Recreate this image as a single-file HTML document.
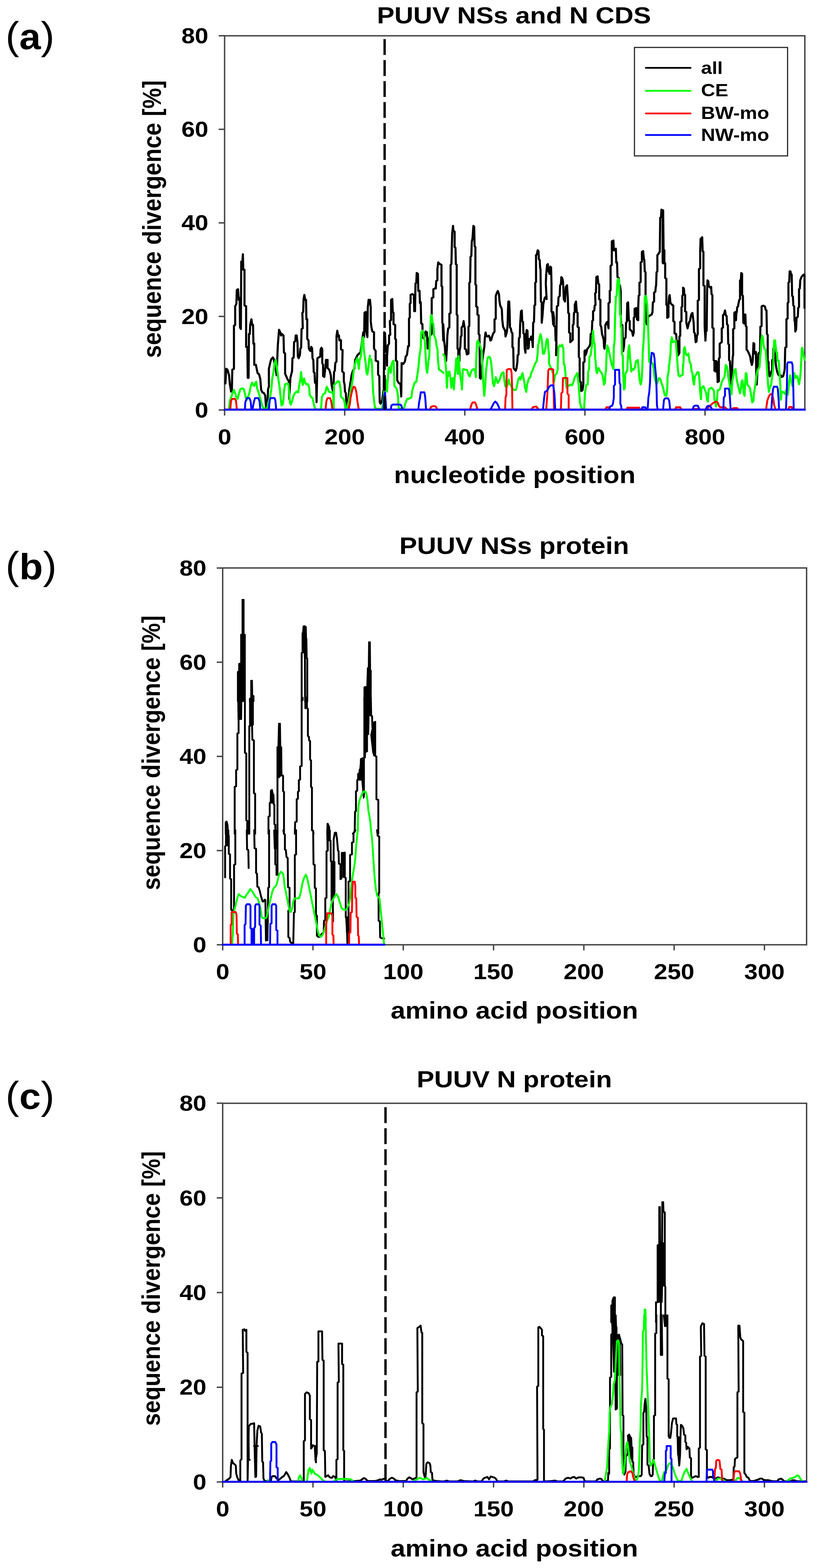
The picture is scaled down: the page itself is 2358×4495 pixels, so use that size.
<!DOCTYPE html>
<html><head><meta charset="utf-8"><title>PUUV sequence divergence</title>
<style>
html,body{margin:0;padding:0;background:#fff;}
svg{display:block;}
text{font-family:"Liberation Sans",Arial,sans-serif;font-weight:bold;fill:#000;}
.tk{font-size:62.5px;}
.ti{font-size:67.6px;}
.xl{font-size:67.9px;}
.yl{font-size:66.3px;}
.lg{font-size:50.5px;}
.pl{font-weight:normal;font-size:111px;}
</style></head><body>
<svg width="2358" height="4495" viewBox="0 0 2358 4495">
<rect width="2358" height="4495" fill="#fff"/>
<rect x="643.5" y="102.6" width="1662.5" height="1072.7" fill="none" stroke="#444444" stroke-width="4"/>
<line x1="626.5" y1="1175.3" x2="643.5" y2="1175.3" stroke="#444444" stroke-width="4"/>
<text transform="translate(597.0,1196.8) scale(1.112,1)" text-anchor="end" class="tk">0</text>
<line x1="626.5" y1="907.1" x2="643.5" y2="907.1" stroke="#444444" stroke-width="4"/>
<text transform="translate(597.0,928.6) scale(1.112,1)" text-anchor="end" class="tk">20</text>
<line x1="626.5" y1="638.9" x2="643.5" y2="638.9" stroke="#444444" stroke-width="4"/>
<text transform="translate(597.0,660.4) scale(1.112,1)" text-anchor="end" class="tk">40</text>
<line x1="626.5" y1="370.7" x2="643.5" y2="370.7" stroke="#444444" stroke-width="4"/>
<text transform="translate(597.0,392.2) scale(1.112,1)" text-anchor="end" class="tk">60</text>
<line x1="626.5" y1="102.5" x2="643.5" y2="102.5" stroke="#444444" stroke-width="4"/>
<text transform="translate(597.0,124.0) scale(1.112,1)" text-anchor="end" class="tk">80</text>
<line x1="643.5" y1="1175.3" x2="643.5" y2="1191.3" stroke="#444444" stroke-width="4"/>
<text transform="translate(643.5,1274.3) scale(1.112,1)" text-anchor="middle" class="tk">0</text>
<line x1="987.6" y1="1175.3" x2="987.6" y2="1191.3" stroke="#444444" stroke-width="4"/>
<text transform="translate(987.6,1274.3) scale(1.112,1)" text-anchor="middle" class="tk">200</text>
<line x1="1331.7" y1="1175.3" x2="1331.7" y2="1191.3" stroke="#444444" stroke-width="4"/>
<text transform="translate(1331.7,1274.3) scale(1.112,1)" text-anchor="middle" class="tk">400</text>
<line x1="1675.9" y1="1175.3" x2="1675.9" y2="1191.3" stroke="#444444" stroke-width="4"/>
<text transform="translate(1675.9,1274.3) scale(1.112,1)" text-anchor="middle" class="tk">600</text>
<line x1="2020.0" y1="1175.3" x2="2020.0" y2="1191.3" stroke="#444444" stroke-width="4"/>
<text transform="translate(2020.0,1274.3) scale(1.112,1)" text-anchor="middle" class="tk">800</text>
<text transform="translate(1472.5,66.6) scale(1.112,1)" text-anchor="middle" class="ti">PUUV NSs and N CDS</text>
<text transform="translate(1474.8,1385.0) scale(1.112,1)" text-anchor="middle" class="xl">nucleotide position</text>
<text transform="translate(461,628.2) rotate(-90) scale(1,1.112)" text-anchor="middle" class="yl">sequence divergence [%]</text>
<text transform="translate(15.8,140.5) scale(1.066,1)" class="pl">(<tspan font-weight="bold" font-size="104px">a</tspan>)</text>
<polyline points="645.8,1099.2 648.1,1057.3 651.6,1059.6 656.3,1075.9 658.6,1101.5 662.1,1122.5 664.4,1115.5 665.6,1059.6 670.3,1057.3 670.3,933.9 673.8,931.6 673.8,878.0 677.3,871.0 678.4,831.5 681.9,829.1 684.2,859.4 686.6,854.7 687.7,938.6 690.1,943.2 691.2,750.0 694.7,747.6 695.9,729.0 697.0,773.2 700.5,773.2 700.5,875.7 705.2,878.0 705.2,994.4 708.7,994.4 709.8,1082.9 712.2,1082.9 713.3,957.2 715.7,957.2 716.8,931.6 720.3,915.3 722.7,931.6 725.0,931.6 726.1,985.1 728.5,985.1 728.5,1045.7 733.1,1045.7 737.8,1068.9 742.4,1073.6 745.9,1087.6 748.3,1117.8 751.8,1124.8 756.4,1127.1 759.9,1134.1 762.2,1169.1 765.7,1166.7 768.1,1115.5 770.4,1108.5 770.4,1057.3 775.0,1036.3 777.4,1029.4 782.0,1024.7 784.4,1029.4 786.7,1043.3 789.0,1050.3 792.5,1075.9 796.0,989.8 799.5,945.5 803.0,952.5 805.3,961.8 807.6,957.2 812.3,961.8 813.5,1010.7 816.9,1013.1 816.9,1071.3 823.9,1087.6 827.4,1092.2 828.6,1143.4 832.1,1082.9 836.7,1064.3 837.9,1027.0 841.4,1024.7 842.6,980.5 846.1,978.1 847.2,961.8 850.0,961.8" fill="none" stroke="#000000" stroke-width="6.0" stroke-linejoin="round" stroke-linecap="round"/>
<polyline points="850.0,961.8 852.3,980.5 853.5,1022.4 855.8,1027.0 859.3,1017.7 860.5,999.1 862.8,996.8 864.0,943.2 867.5,940.9 866.3,896.6 868.6,894.3 869.8,857.1 872.1,845.4 874.4,859.4 876.8,859.4 877.9,915.3 880.3,915.3 880.3,971.2 883.8,975.8 884.9,999.1 887.3,1003.7 889.6,1006.1 891.9,994.4 894.2,999.1 895.4,1027.0 897.7,1031.7 898.9,1066.6 901.2,1068.9 902.4,1096.9 905.9,1099.2 907.0,1152.8 908.2,1099.2 909.4,1027.0 912.9,1024.7 917.5,1022.4 918.7,1001.4 921.0,996.8 923.3,1001.4 923.3,1041.0 925.7,1045.7 925.7,1078.3 929.2,1080.6 931.5,1059.6 932.7,1050.3 933.8,1031.7 938.5,1031.7 938.5,1055.0 943.1,1059.6 945.5,1066.6 947.8,1075.9 950.1,1103.9 953.6,1120.2 955.9,1094.6 957.1,1066.6 959.4,1062.0 960.6,1041.0 964.1,1036.3 964.1,964.2 966.4,947.9 968.7,964.2 971.1,961.8 972.2,975.8 973.4,973.5 976.9,975.8 976.9,1001.4 981.5,1003.7 980.4,1064.3 985.0,1068.9 985.0,1092.2 987.4,1103.9 988.5,1122.5 990.9,1127.1 992.0,1148.1 994.4,1164.4 996.7,1166.7 999.0,1134.1 1001.3,1113.2 1004.8,1092.2 1007.2,1075.9 1010.7,1064.3 1013.0,1059.6 1015.3,1057.3 1017.6,1031.7 1021.1,1024.7 1024.6,1017.7 1029.3,1013.1 1032.8,1010.7 1036.3,985.1 1040.9,952.5 1043.2,966.5 1044.4,896.6 1047.9,894.3 1049.1,947.9 1052.6,966.5 1053.7,882.7 1056.1,859.4 1058.4,871.0 1060.0,868.7" fill="none" stroke="#000000" stroke-width="6.0" stroke-linejoin="round" stroke-linecap="round"/>
<polyline points="1060.0,859.4 1062.3,882.7 1062.3,922.3 1064.7,940.9 1067.0,950.2 1071.6,952.5 1071.6,999.1 1076.3,1006.1 1076.3,1034.0 1083.3,1036.3 1083.3,1073.6 1086.8,1078.3 1087.9,1152.8 1090.3,1157.4 1094.9,1148.1 1096.1,1138.8 1098.4,1122.5 1099.6,1115.5 1100.7,952.5 1103.1,954.9 1105.4,1008.4 1107.7,1006.1 1108.9,1048.0 1108.9,1022.4 1111.2,989.8 1114.7,985.1 1114.7,961.8 1118.2,959.5 1117.0,919.9 1120.5,917.6 1120.5,859.4 1124.0,857.1 1125.2,894.3 1127.5,896.6 1127.5,929.2 1132.2,931.6 1132.2,971.2 1134.5,973.5 1134.5,1034.0 1138.0,1036.3 1138.0,1089.9 1140.3,1094.6 1143.8,1099.2 1147.3,1099.2 1149.6,1136.5 1150.8,1041.0 1155.5,1043.3 1160.1,1036.3 1162.4,1022.4 1165.9,1017.7 1169.4,992.1 1171.8,992.1 1171.8,912.9 1174.1,910.6 1174.1,871.0 1176.4,868.7 1176.4,845.4 1181.1,843.1 1185.7,845.4 1186.9,892.0 1189.2,892.0 1189.2,882.7 1190.4,812.8 1192.7,810.5 1193.9,782.6 1197.4,784.9 1198.5,833.8 1202.0,833.8 1203.2,868.7 1205.5,866.4 1206.7,926.9 1210.2,929.2 1211.3,966.5 1214.8,971.2 1219.5,950.2 1223.0,952.5 1225.3,999.1 1227.6,980.5 1232.3,961.8 1236.9,957.2 1236.9,854.7 1241.6,852.4 1241.6,829.1 1246.3,826.8 1248.6,826.8 1249.8,805.8 1253.2,803.5 1253.2,770.9 1255.6,752.3 1260.2,756.9 1264.9,759.3 1264.9,819.8 1267.2,822.1 1267.2,924.6 1268.4,929.2 1270.0,975.8" fill="none" stroke="#000000" stroke-width="6.0" stroke-linejoin="round" stroke-linecap="round"/>
<polyline points="1270.0,929.7 1272.3,976.4 1274.7,995.0 1277.0,1034.7 1278.2,1034.7 1280.5,995.0 1281.7,962.4 1284.0,941.4 1287.5,939.1 1287.5,899.4 1291.0,897.1 1291.0,759.5 1293.3,757.2 1294.5,708.2 1295.6,668.6 1298.0,647.6 1299.1,661.6 1302.6,663.9 1302.6,708.2 1305.0,710.6 1306.1,757.2 1308.5,759.5 1308.5,901.8 1310.8,904.1 1310.8,999.7 1313.1,1002.0 1313.1,1037.0 1316.6,1034.7 1316.6,1006.7 1319.0,992.7 1320.1,964.7 1322.5,962.4 1322.5,939.1 1326.0,934.4 1328.3,920.4 1330.6,936.7 1331.8,941.4 1331.8,999.7 1335.3,1002.0 1337.6,1016.0 1342.3,1013.7 1342.3,936.7 1344.6,934.4 1344.6,810.8 1346.9,808.5 1348.1,736.2 1350.4,733.9 1351.6,694.2 1353.9,682.6 1356.3,647.6 1358.6,649.9 1359.8,705.9 1362.1,708.2 1362.1,815.5 1364.4,817.8 1364.4,878.4 1367.9,880.8 1367.9,901.8 1371.4,904.1 1371.4,957.7 1373.8,960.0 1374.9,1083.6 1377.3,1085.9 1379.6,1060.3 1384.2,1016.0 1387.7,995.0 1388.9,971.7 1391.2,953.0 1393.6,962.4 1397.1,964.7 1400.6,962.4 1402.9,967.0 1405.2,976.4 1407.6,974.0 1409.9,964.7 1413.4,955.4 1416.9,950.7 1416.9,915.7 1420.4,913.4 1420.4,848.1 1423.9,838.8 1426.2,834.1 1429.7,843.5 1430.9,862.1 1433.2,876.1 1436.7,883.1 1437.9,887.8 1439.0,915.7 1441.4,936.7 1443.7,941.4 1447.2,948.4 1448.4,964.7 1451.9,953.0 1454.2,934.4 1455.4,890.1 1456.5,864.4 1458.9,864.4 1460.0,890.1 1461.2,939.1 1463.5,941.4 1465.8,953.0 1468.2,955.4 1468.2,995.0 1470.5,997.3 1471.7,1055.6 1475.2,1060.3 1477.5,1062.6 1479.8,1055.6 1482.2,1039.3 1483.3,1018.3 1485.7,1016.0 1486.8,969.4 1489.2,967.0 1490.3,929.7 1492.7,892.4 1495.0,890.1 1496.2,920.4 1498.5,922.7 1499.7,955.4 1502.0,957.7 1503.2,997.3 1505.5,1011.3 1506.7,964.7 1509.0,946.1 1511.3,948.4 1512.5,999.7 1514.8,997.3 1516.0,971.7 1519.5,974.0 1521.8,964.7 1524.1,967.0 1526.5,995.0 1527.6,925.1 1530.0,922.7 1531.1,876.1 1533.5,873.8 1533.5,810.8 1535.8,808.5 1535.8,731.6 1538.1,729.2 1540.5,717.6 1542.8,719.9 1544.0,743.2 1546.3,745.5 1547.5,768.9 1548.6,771.2 1549.8,864.4 1552.1,866.8 1552.1,925.1 1554.4,904.1 1556.8,871.4 1560.3,855.1 1563.8,850.5 1566.1,857.5 1563.8,813.2 1564.9,787.5 1567.3,759.5 1569.6,757.2 1570.8,775.8 1573.1,780.5 1574.3,785.2 1576.6,764.2 1578.9,766.5 1580.1,813.2 1580.1,892.4 1582.4,897.1 1583.6,911.1 1585.0,929.7" fill="none" stroke="#000000" stroke-width="6.0" stroke-linejoin="round" stroke-linecap="round"/>
<polyline points="1585.0,894.8 1587.3,911.1 1587.3,934.4 1590.8,936.7 1592.0,976.4 1594.3,978.7 1594.3,1011.3 1593.2,1018.3 1595.5,878.4 1599.0,876.1 1600.2,852.8 1603.7,848.1 1604.8,817.8 1607.1,815.5 1608.3,794.5 1610.6,796.8 1613.0,806.2 1614.1,827.1 1615.3,857.5 1618.8,864.4 1620.0,841.1 1621.1,822.5 1624.6,817.8 1627.0,855.1 1628.1,897.1 1630.5,899.4 1630.5,953.0 1634.0,955.4 1634.0,981.0 1638.6,976.4 1641.0,974.0 1641.0,932.1 1643.3,929.7 1644.5,897.1 1646.8,894.8 1646.8,873.8 1650.3,864.4 1652.6,894.8 1654.9,897.1 1654.9,936.7 1658.4,939.1 1658.4,1023.0 1660.8,1027.7 1660.8,1092.9 1664.3,1095.3 1665.4,1120.9 1668.9,1118.6 1671.3,1102.3 1671.3,1039.3 1674.8,1037.0 1674.8,1006.7 1677.1,1004.3 1677.1,1018.3 1679.4,1013.7 1682.9,999.7 1685.3,997.3 1688.8,992.7 1691.1,985.7 1692.3,957.7 1695.7,955.4 1696.9,920.4 1699.2,918.1 1699.2,892.4 1702.7,890.1 1703.9,876.1 1706.2,873.8 1705.1,841.1 1707.4,838.8 1708.6,794.5 1712.1,792.2 1714.4,813.2 1716.7,815.5 1716.7,857.5 1720.2,859.8 1720.2,932.1 1722.6,936.7 1724.9,957.7 1727.2,964.7 1729.6,974.0 1730.7,995.0 1731.9,999.7 1734.2,974.0 1734.2,932.1 1737.7,925.1 1740.0,922.7 1743.5,941.4 1743.5,869.1 1747.0,866.8 1747.0,834.1 1749.4,831.8 1749.4,761.9 1752.9,759.5 1752.9,691.9 1757.5,689.6 1758.7,717.6 1762.2,717.6 1764.5,712.9 1765.7,752.5 1768.0,752.5 1769.2,794.5 1772.7,796.8 1773.9,815.5 1776.2,817.8 1778.5,834.1 1778.5,904.1 1779.7,929.7 1783.2,932.1 1784.3,971.7 1785.5,1006.7 1787.8,992.7 1789.0,971.7 1792.5,967.0 1793.7,925.1 1796.0,922.7 1797.2,869.1 1799.5,866.8 1801.8,918.1 1804.2,920.4 1804.2,943.7 1808.8,948.4 1811.2,950.7 1813.5,962.4 1815.8,953.0 1815.8,911.1 1818.2,908.7 1818.2,885.4 1822.8,883.1 1825.1,915.7 1828.6,918.1 1828.6,880.8 1829.8,848.1 1832.1,845.8 1832.1,810.8 1835.6,808.5 1835.6,752.5 1839.1,750.2 1839.1,722.2 1842.6,719.9 1845.0,743.2 1846.1,745.5 1847.3,778.2 1849.6,780.5 1849.6,843.5 1850.8,915.7 1853.1,929.7 1856.6,927.4 1856.6,908.7 1859.0,906.4 1862.5,904.1 1867.1,901.8 1869.4,894.8 1870.6,866.8 1874.1,864.4 1874.1,838.8 1877.6,836.5 1878.8,822.5 1879.9,817.8 1881.1,780.5 1883.4,778.2 1883.4,731.6 1885.8,729.2 1888.1,724.6 1890.4,722.2 1891.6,624.3 1893.9,622.0 1895.1,601.0 1898.6,603.3 1898.6,752.5 1900.0,754.9" fill="none" stroke="#000000" stroke-width="6.0" stroke-linejoin="round" stroke-linecap="round"/>
<polyline points="1900.0,603.3 1901.2,715.2 1903.5,717.6 1903.5,752.5 1905.8,754.9 1905.8,796.8 1909.3,799.2 1909.3,873.8 1911.7,876.1 1911.7,911.1 1915.2,908.7 1915.2,876.1 1917.5,848.1 1918.7,845.8 1921.0,869.1 1923.3,871.4 1925.6,873.8 1929.1,876.1 1929.1,920.4 1932.6,922.7 1932.6,955.4 1937.3,957.7 1938.5,976.4 1942.0,978.7 1943.1,1018.3 1946.6,1011.3 1946.6,964.7 1949.0,962.4 1949.0,922.7 1952.5,920.4 1952.5,880.8 1954.8,878.4 1954.8,848.1 1957.1,845.8 1957.1,824.8 1959.5,827.1 1960.6,843.5 1963.0,845.8 1963.0,892.4 1966.4,894.8 1966.4,925.1 1969.9,941.4 1972.3,932.1 1974.6,922.7 1976.9,920.4 1979.3,906.4 1981.6,899.4 1983.9,897.1 1987.4,925.1 1988.6,953.0 1990.9,955.4 1993.3,981.0 1995.6,978.7 1996.8,962.4 1999.1,957.7 1999.1,862.1 2002.6,859.8 2002.6,771.2 2006.1,768.9 2006.1,719.9 2007.3,684.9 2011.9,680.3 2013.1,719.9 2015.4,722.2 2015.4,817.8 2018.9,820.1 2018.9,934.4 2021.2,976.4 2022.4,950.7 2024.7,948.4 2025.9,836.5 2027.1,803.8 2029.4,806.2 2030.6,820.1 2032.9,822.5 2035.2,824.8 2037.6,822.5 2038.7,843.5 2041.1,845.8 2041.1,939.1 2044.6,941.4 2044.6,1032.3 2046.9,1034.7 2046.9,1062.6 2050.4,1065.0 2051.6,1034.7 2053.9,1037.0 2056.2,1095.3 2059.7,1092.9 2059.7,1027.7 2062.0,1025.3 2062.0,985.7 2064.4,983.4 2067.9,981.0 2067.9,941.4 2071.4,939.1 2071.4,904.1 2074.9,899.4 2077.2,890.1 2079.5,904.1 2081.9,906.4 2083.0,929.7 2085.4,932.1 2086.5,985.7 2088.9,988.0 2088.9,1032.3 2091.2,1034.7 2093.5,1079.0 2094.7,1102.3 2097.0,1072.0 2099.3,1023.0 2100.5,1018.3 2100.5,943.7 2104.0,941.4 2104.0,897.1 2106.3,894.8 2107.5,915.7 2108.7,918.1 2109.8,897.1 2111.0,894.8 2112.2,880.8 2114.5,878.4 2115.7,871.4 2118.0,859.8 2120.3,857.5 2120.3,803.8 2122.7,801.5 2123.8,782.8 2126.2,785.2 2126.2,845.8 2128.5,848.1 2129.7,925.1 2132.0,927.4 2133.2,901.8 2135.5,901.8 2136.7,934.4 2139.0,936.7 2139.0,1002.0 2141.3,1004.3 2143.6,1009.0 2147.1,1016.0 2149.5,1023.0 2151.8,1037.0 2154.1,1046.3 2156.5,1037.0 2158.8,983.4 2161.1,985.7 2161.1,1013.7 2165.8,1009.0 2167.0,1081.3 2168.1,1102.3 2170.5,1058.0 2172.8,1013.7 2177.5,1009.0 2178.6,936.7 2182.1,934.4 2182.1,878.4 2186.8,876.1 2191.4,878.4 2193.8,887.8 2196.1,890.1 2197.3,957.7 2199.6,960.0 2199.6,1034.7 2201.9,1037.0 2203.1,1074.3 2205.4,1079.0 2210.1,1065.0 2212.4,1060.3 2212.4,1032.3 2215.0,1030.0" fill="none" stroke="#000000" stroke-width="6.0" stroke-linejoin="round" stroke-linecap="round"/>
<polyline points="2215.0,1029.4 2215.9,999.1 2219.4,1003.7 2222.9,1045.7 2225.3,1059.6 2227.6,1068.9 2231.1,1075.9 2236.9,1075.9 2240.4,1080.6 2243.9,1078.3 2247.4,1064.3 2248.5,1055.0 2249.7,996.8 2253.2,994.4 2253.2,915.3 2256.7,912.9 2256.7,868.7 2259.0,866.4 2259.0,810.5 2261.3,808.2 2262.5,777.9 2264.8,777.9 2266.0,784.9 2268.3,787.2 2269.5,847.8 2271.8,850.1 2273.0,875.7 2275.3,878.0 2276.5,919.9 2277.6,922.3 2278.8,950.2 2281.1,943.2 2282.3,910.6 2285.8,908.3 2286.9,882.7 2289.3,880.3 2289.3,829.1 2291.6,826.8 2292.8,803.5 2296.3,794.2 2299.8,789.5 2303.2,787.2 2305.1,789.5 2305.1,882.7" fill="none" stroke="#000000" stroke-width="6.0" stroke-linejoin="round" stroke-linecap="round"/>
<polyline points="656.3,1172.5 658.6,1150.4 662.1,1138.8 665.6,1129.5 670.3,1117.8 673.8,1127.1 677.3,1138.8 680.7,1143.4 684.2,1129.5 688.9,1115.5 693.6,1113.2 698.2,1115.5 701.7,1127.1 704.0,1138.8 707.5,1145.8 714.5,1127.1 719.2,1103.9 722.7,1096.9 725.0,1103.9 728.5,1106.2 732.0,1096.9 734.3,1094.6 736.6,1113.2 740.1,1122.5 743.6,1134.1 747.1,1148.1 751.8,1164.4 756.4,1171.4 765.7,1171.4 770.4,1148.1 773.9,1138.8 777.4,1115.5 779.7,1087.6 783.2,1068.9 786.7,1041.0 790.2,1031.7 792.5,1045.7 794.8,1064.3 798.3,1092.2 801.8,1115.5 804.1,1138.8 806.5,1162.1 810.0,1159.7 812.3,1143.4 813.5,1122.5 816.9,1101.5 823.9,1099.2 826.3,1101.5 828.6,1127.1 830.9,1155.1 833.2,1159.7 836.7,1150.4 840.2,1136.5 844.9,1127.1 850.0,1122.5" fill="none" stroke="#00ff00" stroke-width="5.9" stroke-linejoin="round" stroke-linecap="round"/>
<polyline points="850.0,1122.5 854.7,1124.8 857.0,1106.2 860.5,1087.6 862.8,1066.6 865.1,1092.2 867.5,1103.9 871.0,1085.2 874.4,1096.9 877.9,1101.5 882.6,1101.5 886.1,1113.2 887.3,1131.8 891.9,1138.8 895.4,1141.1 898.9,1157.4 902.4,1171.4 905.9,1173.7 919.8,1173.7 922.2,1138.8 926.8,1129.5 931.5,1127.1 936.1,1108.5 939.6,1115.5 942.0,1122.5 947.8,1124.8 952.4,1124.8 954.8,1131.8 955.9,1171.4 957.1,1103.9 961.8,1099.2 968.7,1092.2 972.2,1094.6 975.7,1115.5 976.9,1136.5 980.4,1141.1 983.9,1143.4 987.4,1152.8 989.7,1173.7 992.0,1173.7 999.0,1152.8 1003.7,1124.8 1007.2,1106.2 1010.7,1087.6 1013.0,1064.3 1016.5,1045.7 1020.0,1034.0 1023.5,1027.0 1026.9,1045.7 1028.1,1057.3 1030.4,1031.7 1033.9,1022.4 1036.3,989.8 1038.6,971.2 1040.9,966.5 1042.1,999.1 1044.4,1017.7 1047.9,1043.3 1050.2,1068.9 1052.6,1073.6 1056.1,1050.3 1058.4,1027.0 1060.0,1020.0" fill="none" stroke="#00ff00" stroke-width="5.9" stroke-linejoin="round" stroke-linecap="round"/>
<polyline points="1060.0,1029.4 1063.5,1029.4 1065.8,1045.7 1067.0,1080.6 1069.3,1127.1 1072.8,1157.4 1075.1,1171.4 1094.9,1172.5 1098.4,1150.4 1103.1,1092.2 1106.6,1089.9 1108.9,1122.5 1110.1,1101.5 1113.6,1055.0 1118.2,1052.6 1119.4,1068.9 1121.7,1045.7 1125.2,1036.3 1127.5,1034.0 1129.8,1082.9 1129.8,1106.2 1132.2,1108.5 1136.8,1115.5 1140.3,1134.1 1141.5,1162.1 1142.7,1171.4 1153.1,1171.4 1157.8,1169.1 1162.4,1152.8 1167.1,1143.4 1171.8,1143.4 1178.7,1138.8 1181.1,1120.2 1185.7,1103.9 1188.1,1096.9 1192.7,1094.6 1195.0,1080.6 1197.4,1064.3 1199.7,1045.7 1202.0,1017.7 1205.5,999.1 1206.7,952.5 1211.3,947.9 1213.7,957.2 1216.0,971.2 1217.2,975.8 1219.5,1022.4 1221.8,1057.3 1224.1,1068.9 1226.5,1045.7 1227.6,1034.0 1230.0,1022.4 1231.1,982.8 1232.3,957.2 1234.6,906.0 1236.9,903.6 1239.3,924.6 1241.6,929.2 1243.9,961.8 1248.6,973.5 1250.9,992.1 1253.2,999.1 1255.6,1041.0 1257.9,1059.6 1262.6,1062.0 1267.2,1066.6 1270.0,1068.9" fill="none" stroke="#00ff00" stroke-width="5.9" stroke-linejoin="round" stroke-linecap="round"/>
<polyline points="1270.0,1016.0 1273.5,1020.7 1275.8,1037.0 1278.2,1058.0 1280.5,1111.6 1282.8,1067.3 1285.2,1076.6 1287.5,1065.0 1291.0,1088.3 1293.3,1111.6 1295.6,1085.9 1298.0,1083.6 1300.3,1116.3 1302.6,1085.9 1305.0,1058.0 1307.3,1027.7 1309.6,1053.3 1312.0,1072.0 1314.3,1020.7 1316.6,1058.0 1319.0,1079.0 1321.3,1090.6 1323.6,1116.3 1326.0,1060.3 1328.3,1058.0 1333.0,1060.3 1337.6,1060.3 1339.9,1065.0 1343.4,1076.6 1345.8,1079.0 1349.3,1067.3 1352.8,1060.3 1357.4,1058.0 1360.9,1060.3 1363.3,1081.3 1364.4,1030.0 1366.8,981.0 1369.1,976.4 1371.4,981.0 1374.9,990.4 1377.3,997.3 1380.7,1009.0 1383.1,1076.6 1385.4,1104.6 1386.6,1123.3 1387.7,1134.9 1390.1,1104.6 1392.4,1065.0 1394.7,1046.3 1397.1,1025.3 1400.6,1023.0 1404.1,1025.3 1406.4,1034.7 1408.7,1053.3 1411.1,1081.3 1412.2,1097.6 1415.7,1106.9 1418.1,1095.3 1420.4,1081.3 1423.9,1090.6 1426.2,1097.6 1430.9,1090.6 1434.4,1079.0 1437.9,1069.6 1442.5,1067.3 1444.9,1088.3 1447.2,1104.6 1450.7,1111.6 1454.2,1102.3 1457.7,1088.3 1460.0,1099.9 1463.5,1104.6 1467.0,1111.6 1470.5,1116.3 1475.2,1118.6 1478.7,1116.3 1481.0,1106.9 1483.3,1095.3 1485.7,1085.9 1489.2,1081.3 1491.5,1088.3 1495.0,1074.3 1497.3,1069.6 1499.7,1083.6 1502.0,1092.9 1504.3,1111.6 1507.8,1123.3 1510.1,1102.3 1512.5,1095.3 1514.8,1085.9 1519.5,1081.3 1521.8,1069.6 1524.1,1065.0 1526.5,1060.3 1528.8,1053.3 1531.1,1048.6 1533.5,1041.6 1538.1,1034.7 1540.5,1011.3 1541.6,990.4 1544.0,981.0 1546.3,967.0 1548.6,957.7 1551.0,967.0 1553.3,983.4 1555.6,1013.7 1559.1,1013.7 1562.6,997.3 1564.9,981.0 1567.3,971.7 1569.6,974.0 1570.8,997.3 1573.1,1018.3 1573.1,1041.6 1576.6,1051.0 1580.1,1058.0 1583.6,1067.3 1585.0,1069.6" fill="none" stroke="#00ff00" stroke-width="5.9" stroke-linejoin="round" stroke-linecap="round"/>
<polyline points="1585.0,1090.6 1587.3,1095.3 1589.7,1076.6 1593.2,1072.0 1595.5,1069.6 1597.8,1058.0 1599.0,1018.3 1600.2,995.0 1603.7,990.4 1607.1,992.7 1610.6,988.0 1614.1,999.7 1615.3,1044.0 1617.6,1046.3 1620.0,1069.6 1621.1,1090.6 1623.5,1111.6 1627.0,1106.9 1631.6,1104.6 1635.1,1102.3 1638.6,1104.6 1642.1,1097.6 1646.8,1081.3 1650.3,1076.6 1653.8,1069.6 1656.1,1083.6 1657.3,1097.6 1659.6,1127.9 1661.9,1155.9 1665.4,1167.5 1670.1,1174.5 1673.6,1174.5 1675.9,1127.9 1678.3,1111.6 1680.6,1102.3 1684.1,1102.3 1685.3,1065.0 1687.6,1058.0 1688.8,1023.0 1692.3,1018.3 1694.6,1002.0 1696.9,985.7 1699.2,948.4 1701.6,981.0 1703.9,985.7 1705.1,1023.0 1707.4,1046.3 1708.6,1065.0 1710.9,1069.6 1713.2,1055.6 1715.6,1055.6 1717.9,1062.6 1720.2,1065.0 1723.7,1069.6 1726.1,1074.3 1728.4,1088.3 1730.7,1102.3 1733.1,1097.6 1734.2,1079.0 1736.6,1055.6 1737.7,1018.3 1740.0,990.4 1743.5,999.7 1745.9,1013.7 1748.2,1023.0 1750.5,1034.7 1752.9,1046.3 1755.2,1051.0 1757.5,1058.0 1758.7,995.0 1761.0,976.4 1762.2,911.1 1764.5,850.5 1766.9,848.1 1769.2,803.8 1771.5,799.2 1773.9,803.8 1775.0,845.8 1776.2,901.8 1778.5,906.4 1778.5,936.7 1780.8,936.7 1782.0,1016.0 1784.3,1018.3 1785.5,1069.6 1787.8,1116.3 1790.2,1111.6 1791.3,1074.3 1794.8,1065.0 1797.2,1062.6 1798.3,1037.0 1800.7,999.7 1803.0,990.4 1805.3,1027.7 1807.7,1046.3 1808.8,1065.0 1810.0,1060.3 1812.3,1058.0 1814.7,1060.3 1819.3,1053.3 1821.7,1037.0 1824.0,1034.7 1827.5,1032.3 1829.8,1058.0 1832.1,1085.9 1835.6,1102.3 1838.0,1092.9 1840.3,1058.0 1841.5,1011.3 1843.8,981.0 1846.1,934.4 1847.3,852.8 1850.8,848.1 1854.3,873.8 1856.6,925.1 1859.0,999.7 1860.1,1037.0 1862.5,1039.3 1866.0,1037.0 1868.3,1041.6 1870.6,1044.0 1872.9,1058.0 1875.3,1081.3 1878.8,1092.9 1881.1,1102.3 1884.6,1092.9 1888.1,1083.6 1891.6,1085.9 1895.1,1097.6 1898.6,1106.9 1900.0,1113.9" fill="none" stroke="#00ff00" stroke-width="5.9" stroke-linejoin="round" stroke-linecap="round"/>
<polyline points="1900.0,1111.6 1902.3,1123.3 1904.7,1132.6 1909.3,1134.9 1911.7,1116.3 1912.8,1079.0 1915.2,1069.6 1916.3,1053.3 1918.7,1034.7 1921.0,1013.7 1922.1,983.4 1924.5,967.0 1928.0,981.0 1932.6,978.7 1936.1,976.4 1937.3,992.7 1939.6,1020.7 1942.0,1055.6 1944.3,1076.6 1947.8,1079.0 1951.3,1076.6 1956.0,1074.3 1957.1,1044.0 1958.3,1041.6 1959.5,999.7 1961.8,995.0 1964.1,1009.0 1965.3,1016.0 1968.8,1018.3 1972.3,1013.7 1975.8,1037.0 1979.3,1044.0 1981.6,1065.0 1983.9,1069.6 1986.3,1092.9 1988.6,1102.3 1990.9,1079.0 1994.4,1074.3 1997.9,1067.3 2001.4,1067.3 2003.8,1083.6 2006.1,1123.3 2008.4,1144.2 2009.6,1113.9 2013.1,1109.3 2015.4,1106.9 2018.9,1116.3 2021.2,1120.9 2023.6,1127.9 2025.9,1146.6 2028.2,1151.2 2030.6,1116.3 2034.1,1113.9 2038.7,1111.6 2042.2,1116.3 2045.7,1120.9 2046.9,1144.2 2051.6,1165.2 2053.9,1148.9 2056.2,1118.6 2059.7,1118.6 2063.2,1113.9 2066.7,1099.9 2069.0,1092.9 2072.5,1085.9 2076.0,1079.0 2079.5,1046.3 2083.0,1051.0 2085.4,1065.0 2086.5,1079.0 2088.9,1092.9 2091.2,1106.9 2093.5,1123.3 2095.8,1130.2 2098.2,1092.9 2101.7,1074.3 2104.0,1060.3 2107.5,1058.0 2109.8,1081.3 2112.2,1095.3 2114.5,1104.6 2118.0,1118.6 2120.3,1127.9 2122.7,1116.3 2125.0,1092.9 2127.3,1090.6 2129.7,1111.6 2130.8,1127.9 2133.2,1134.9 2135.5,1088.3 2136.7,1069.6 2139.0,1072.0 2141.3,1102.3 2144.8,1106.9 2148.3,1111.6 2150.6,1123.3 2153.0,1139.6 2155.3,1153.6 2158.8,1148.9 2160.0,1127.9 2162.3,1116.3 2164.6,1099.9 2167.0,1081.3 2170.5,1060.3 2172.8,1058.0 2176.3,1051.0 2178.6,1018.3 2179.8,1009.0 2181.0,976.4 2183.3,962.4 2185.6,967.0 2187.9,990.4 2190.3,999.7 2193.8,1004.3 2196.1,1037.0 2198.4,1069.6 2200.8,1104.6 2203.1,1123.3 2205.4,1111.6 2208.9,1104.6 2212.4,1081.3 2215.0,1060.3" fill="none" stroke="#00ff00" stroke-width="5.9" stroke-linejoin="round" stroke-linecap="round"/>
<polyline points="2215.0,1059.6 2216.6,1010.7 2218.3,975.8 2220.6,975.8 2224.1,1008.4 2226.4,1010.7 2227.6,1034.0 2231.1,1034.0 2233.4,1068.9 2235.7,1103.9 2236.9,1145.8 2238.1,1141.1 2239.2,1124.8 2241.5,1122.5 2245.0,1124.8 2247.4,1127.1 2249.7,1129.5 2252.0,1120.2 2254.4,1115.5 2256.7,1131.8 2259.0,1115.5 2261.3,1092.2 2263.7,1075.9 2266.0,1087.6 2268.3,1096.9 2270.7,1106.2 2273.0,1092.2 2275.3,1068.9 2278.8,1082.9 2281.1,1078.3 2283.5,1078.3 2285.8,1085.2 2289.3,1101.5 2291.6,1087.6 2293.9,1068.9 2295.1,1045.7 2296.3,1022.4 2297.4,999.1 2298.6,996.8 2300.9,1010.7 2303.2,1022.4 2305.1,1031.7" fill="none" stroke="#00ff00" stroke-width="5.9" stroke-linejoin="round" stroke-linecap="round"/>
<polyline points="643.5,1174.3 2306.0,1174.3" fill="none" stroke="#ff0000" stroke-width="5.4" stroke-linejoin="round" stroke-linecap="round"/>
<polyline points="659.8,1172.5 662.1,1148.1 665.6,1143.4 672.6,1143.4 676.1,1148.1 678.4,1172.5" fill="none" stroke="#ff0000" stroke-width="5.4" stroke-linejoin="round" stroke-linecap="round"/>
<polyline points="932.7,1173.7 935.0,1150.4 938.5,1141.1 945.5,1141.1 949.0,1150.4 952.4,1173.7" fill="none" stroke="#ff0000" stroke-width="5.4" stroke-linejoin="round" stroke-linecap="round"/>
<polyline points="999.0,1173.7 1002.5,1157.4 1004.8,1138.8 1008.3,1122.5 1013.0,1108.5 1017.6,1110.8 1021.1,1124.8 1023.5,1145.8 1025.8,1162.1 1028.1,1173.7" fill="none" stroke="#ff0000" stroke-width="5.4" stroke-linejoin="round" stroke-linecap="round"/>
<polyline points="1232.3,1173.7 1234.6,1166.7 1239.3,1164.4 1246.3,1164.4 1249.8,1166.7 1252.1,1173.7" fill="none" stroke="#ff0000" stroke-width="5.4" stroke-linejoin="round" stroke-linecap="round"/>
<polyline points="1346.9,1174.5 1350.4,1160.6 1353.9,1153.6 1360.9,1153.6 1364.4,1160.6 1367.9,1174.5" fill="none" stroke="#ff0000" stroke-width="5.4" stroke-linejoin="round" stroke-linecap="round"/>
<polyline points="1447.2,1174.5 1448.4,1139.6 1450.7,1132.6 1451.9,1060.3 1456.5,1058.0 1463.5,1058.0 1465.8,1069.6 1467.0,1104.6 1468.2,1174.5" fill="none" stroke="#ff0000" stroke-width="5.4" stroke-linejoin="round" stroke-linecap="round"/>
<polyline points="1523.0,1174.5 1526.5,1167.5 1535.8,1165.2 1540.5,1169.9 1542.8,1174.5" fill="none" stroke="#ff0000" stroke-width="5.4" stroke-linejoin="round" stroke-linecap="round"/>
<polyline points="1564.9,1174.5 1568.4,1127.9 1570.8,1062.6 1573.1,1058.0 1582.4,1058.0 1585.0,1060.3" fill="none" stroke="#ff0000" stroke-width="5.4" stroke-linejoin="round" stroke-linecap="round"/>
<polyline points="1585.0,1060.3 1586.2,1116.3 1587.3,1174.5" fill="none" stroke="#ff0000" stroke-width="5.4" stroke-linejoin="round" stroke-linecap="round"/>
<polyline points="1607.1,1174.5 1608.3,1127.9 1611.8,1123.3 1613.0,1083.6 1625.8,1083.6 1625.8,1127.9 1629.3,1132.6 1629.3,1174.5" fill="none" stroke="#ff0000" stroke-width="5.4" stroke-linejoin="round" stroke-linecap="round"/>
<polyline points="1734.2,1174.5 1737.7,1167.5 1743.5,1167.5 1747.0,1174.5" fill="none" stroke="#ff0000" stroke-width="5.4" stroke-linejoin="round" stroke-linecap="round"/>
<polyline points="1796.0,1174.5 1797.2,1168.7 1832.1,1168.7 1833.3,1174.5" fill="none" stroke="#ff0000" stroke-width="5.4" stroke-linejoin="round" stroke-linecap="round"/>
<polyline points="1933.8,1174.5 1937.3,1167.5 1949.0,1167.5 1952.5,1174.5" fill="none" stroke="#ff0000" stroke-width="5.4" stroke-linejoin="round" stroke-linecap="round"/>
<polyline points="1988.6,1174.5 1990.9,1172.2 2000.3,1172.2 2002.6,1174.5" fill="none" stroke="#ff0000" stroke-width="5.4" stroke-linejoin="round" stroke-linecap="round"/>
<polyline points="2025.9,1174.5 2029.4,1167.5 2037.6,1160.6 2042.2,1155.9 2051.6,1151.2 2056.2,1153.6 2059.7,1162.9 2063.2,1167.5 2067.9,1167.5 2077.2,1167.5 2081.9,1172.2 2086.5,1174.5" fill="none" stroke="#ff0000" stroke-width="5.4" stroke-linejoin="round" stroke-linecap="round"/>
<polyline points="2097.0,1174.5 2100.5,1169.9 2112.2,1169.9 2115.7,1174.5" fill="none" stroke="#ff0000" stroke-width="5.4" stroke-linejoin="round" stroke-linecap="round"/>
<polyline points="2195.0,1173.7 2198.5,1148.1 2202.0,1138.8 2205.5,1131.8 2210.1,1129.5 2213.6,1134.1 2215.9,1145.8 2218.3,1162.1 2221.8,1173.7" fill="none" stroke="#ff0000" stroke-width="5.4" stroke-linejoin="round" stroke-linecap="round"/>
<polyline points="2259.0,1173.7 2261.3,1166.7 2268.3,1166.7 2270.7,1173.7" fill="none" stroke="#ff0000" stroke-width="5.4" stroke-linejoin="round" stroke-linecap="round"/>
<polyline points="643.5,1174.3 2306.0,1174.3" fill="none" stroke="#0000ff" stroke-width="5.4" stroke-linejoin="round" stroke-linecap="round"/>
<polyline points="701.7,1173.7 702.9,1152.8 707.5,1141.1 714.5,1141.1 718.0,1150.4 720.3,1171.4 723.8,1171.4 727.3,1152.8 730.8,1141.1 740.1,1141.1 743.6,1150.4 745.9,1173.7" fill="none" stroke="#0000ff" stroke-width="5.4" stroke-linejoin="round" stroke-linecap="round"/>
<polyline points="770.4,1173.7 772.7,1148.1 775.0,1141.1 786.7,1141.1 789.0,1148.1 791.3,1173.7" fill="none" stroke="#0000ff" stroke-width="5.4" stroke-linejoin="round" stroke-linecap="round"/>
<polyline points="1098.4,1173.7 1100.7,1134.1 1103.1,1124.8 1106.6,1173.7" fill="none" stroke="#0000ff" stroke-width="5.4" stroke-linejoin="round" stroke-linecap="round"/>
<polyline points="1119.4,1173.7 1121.7,1162.1 1125.2,1159.7 1146.1,1159.7 1149.6,1162.1 1153.1,1173.7" fill="none" stroke="#0000ff" stroke-width="5.4" stroke-linejoin="round" stroke-linecap="round"/>
<polyline points="1198.5,1173.7 1200.9,1152.8 1203.2,1141.1 1205.5,1124.8 1216.0,1124.8 1218.3,1138.8 1220.7,1173.7" fill="none" stroke="#0000ff" stroke-width="5.4" stroke-linejoin="round" stroke-linecap="round"/>
<polyline points="1405.2,1174.5 1409.9,1165.2 1414.6,1155.9 1419.2,1151.2 1423.9,1155.9 1428.5,1165.2 1432.0,1174.5" fill="none" stroke="#0000ff" stroke-width="5.4" stroke-linejoin="round" stroke-linecap="round"/>
<polyline points="1555.6,1174.5 1559.1,1139.6 1561.4,1123.3 1566.1,1120.9 1569.6,1116.3 1573.1,1109.3 1577.8,1104.6 1585.0,1104.6" fill="none" stroke="#0000ff" stroke-width="5.4" stroke-linejoin="round" stroke-linecap="round"/>
<polyline points="1585.0,1104.6 1588.5,1127.9 1589.7,1151.2 1590.8,1174.5" fill="none" stroke="#0000ff" stroke-width="5.4" stroke-linejoin="round" stroke-linecap="round"/>
<polyline points="1745.9,1174.5 1748.2,1165.2 1754.0,1162.9 1756.4,1155.9 1758.7,1139.6 1758.7,1106.9 1762.2,1102.3 1762.2,1060.3 1773.9,1060.3 1775.0,1097.6 1777.4,1102.3 1777.4,1158.2 1779.7,1162.9 1780.8,1174.5" fill="none" stroke="#0000ff" stroke-width="5.4" stroke-linejoin="round" stroke-linecap="round"/>
<polyline points="1838.0,1174.5 1840.3,1167.5 1848.5,1167.5 1853.1,1174.5" fill="none" stroke="#0000ff" stroke-width="5.4" stroke-linejoin="round" stroke-linecap="round"/>
<polyline points="1855.5,1174.5 1857.8,1139.6 1860.1,1125.6 1862.5,1095.3 1863.6,1046.3 1864.8,1037.0 1867.1,1011.3 1872.9,1013.7 1875.3,1027.7 1876.4,1046.3 1879.9,1081.3 1881.1,1116.3 1882.3,1162.9 1884.6,1174.5" fill="none" stroke="#0000ff" stroke-width="5.4" stroke-linejoin="round" stroke-linecap="round"/>
<polyline points="1900.0,1172.2 1902.3,1146.6 1905.8,1141.9 1914.0,1141.9 1917.5,1148.9 1919.8,1172.2 1922.1,1174.5" fill="none" stroke="#0000ff" stroke-width="5.4" stroke-linejoin="round" stroke-linecap="round"/>
<polyline points="1983.9,1174.5 1987.4,1165.2 1990.9,1162.9 1999.1,1162.9 2002.6,1169.9 2004.9,1174.5" fill="none" stroke="#0000ff" stroke-width="5.4" stroke-linejoin="round" stroke-linecap="round"/>
<polyline points="2021.2,1174.5 2025.9,1165.2 2030.6,1162.9 2035.2,1165.2 2039.9,1172.2 2042.2,1174.5" fill="none" stroke="#0000ff" stroke-width="5.4" stroke-linejoin="round" stroke-linecap="round"/>
<polyline points="2072.5,1174.5 2073.7,1139.6 2077.2,1134.9 2077.2,1113.9 2086.5,1113.9 2088.9,1116.3 2091.2,1139.6 2093.5,1174.5" fill="none" stroke="#0000ff" stroke-width="5.4" stroke-linejoin="round" stroke-linecap="round"/>
<polyline points="2210.1,1173.7 2212.4,1138.8 2214.8,1115.5 2217.1,1108.5 2226.4,1108.5 2228.7,1115.5 2231.1,1150.4 2232.2,1173.7" fill="none" stroke="#0000ff" stroke-width="5.4" stroke-linejoin="round" stroke-linecap="round"/>
<polyline points="2252.0,1173.7 2253.2,1138.8 2254.4,1120.2 2255.5,1043.3 2257.8,1038.7 2268.3,1038.7 2270.7,1045.7 2273.0,1115.5 2274.1,1173.7" fill="none" stroke="#0000ff" stroke-width="5.4" stroke-linejoin="round" stroke-linecap="round"/>
<rect x="638" y="1628.2" width="1673" height="1080.2" fill="none" stroke="#444444" stroke-width="4"/>
<line x1="621" y1="2708.4" x2="638" y2="2708.4" stroke="#444444" stroke-width="4"/>
<text transform="translate(591.5,2729.9) scale(1.112,1)" text-anchor="end" class="tk">0</text>
<line x1="621" y1="2438.4" x2="638" y2="2438.4" stroke="#444444" stroke-width="4"/>
<text transform="translate(591.5,2459.9) scale(1.112,1)" text-anchor="end" class="tk">20</text>
<line x1="621" y1="2168.4" x2="638" y2="2168.4" stroke="#444444" stroke-width="4"/>
<text transform="translate(591.5,2189.9) scale(1.112,1)" text-anchor="end" class="tk">40</text>
<line x1="621" y1="1898.4" x2="638" y2="1898.4" stroke="#444444" stroke-width="4"/>
<text transform="translate(591.5,1919.9) scale(1.112,1)" text-anchor="end" class="tk">60</text>
<line x1="621" y1="1628.4" x2="638" y2="1628.4" stroke="#444444" stroke-width="4"/>
<text transform="translate(591.5,1649.9) scale(1.112,1)" text-anchor="end" class="tk">80</text>
<line x1="638.0" y1="2708.4" x2="638.0" y2="2724.4" stroke="#444444" stroke-width="4"/>
<text transform="translate(638.0,2807.4) scale(1.112,1)" text-anchor="middle" class="tk">0</text>
<line x1="896.7" y1="2708.4" x2="896.7" y2="2724.4" stroke="#444444" stroke-width="4"/>
<text transform="translate(896.7,2807.4) scale(1.112,1)" text-anchor="middle" class="tk">50</text>
<line x1="1155.4" y1="2708.4" x2="1155.4" y2="2724.4" stroke="#444444" stroke-width="4"/>
<text transform="translate(1155.4,2807.4) scale(1.112,1)" text-anchor="middle" class="tk">100</text>
<line x1="1414.1" y1="2708.4" x2="1414.1" y2="2724.4" stroke="#444444" stroke-width="4"/>
<text transform="translate(1414.1,2807.4) scale(1.112,1)" text-anchor="middle" class="tk">150</text>
<line x1="1672.8" y1="2708.4" x2="1672.8" y2="2724.4" stroke="#444444" stroke-width="4"/>
<text transform="translate(1672.8,2807.4) scale(1.112,1)" text-anchor="middle" class="tk">200</text>
<line x1="1931.5" y1="2708.4" x2="1931.5" y2="2724.4" stroke="#444444" stroke-width="4"/>
<text transform="translate(1931.5,2807.4) scale(1.112,1)" text-anchor="middle" class="tk">250</text>
<line x1="2190.2" y1="2708.4" x2="2190.2" y2="2724.4" stroke="#444444" stroke-width="4"/>
<text transform="translate(2190.2,2807.4) scale(1.112,1)" text-anchor="middle" class="tk">300</text>
<text transform="translate(1473.3,1587.7) scale(1.1235,1)" text-anchor="middle" class="ti">PUUV NSs protein</text>
<text transform="translate(1473.7,2920.0) scale(1.112,1)" text-anchor="middle" class="xl">amino acid position</text>
<text transform="translate(457.5,2158) rotate(-90) scale(1,1.112)" text-anchor="middle" class="yl" style="font-size:65.6px">sequence divergence [%]</text>
<text transform="translate(15.8,1660.4) scale(1.066,1)" class="pl">(<tspan font-weight="bold" font-size="104px">b</tspan>)</text>
<polygon points="680.4,2010.8 680.4,1925.6 684.0,1923.8 684.0,1902.5 689.7,1900.7 689.7,1819.0 693.7,1817.2 693.7,1718.6 699.1,1718.6 699.1,1817.2 702.6,1819.0 702.6,2010.8" fill="#000000" stroke="#000000" stroke-width="3" stroke-linejoin="round"/>
<polygon points="715.1,2010.8 715.1,2002.0 718.6,2000.2 718.6,1950.4 723.0,1950.4 723.9,1993.1 727.5,1994.8 727.5,2010.8" fill="#000000" stroke="#000000" stroke-width="3" stroke-linejoin="round"/>
<polygon points="866.9,1815.4 869.6,1795.9 876.0,1797.7 876.0,1886.5 872.3,1886.5 871.4,1870.5 866.9,1870.5" fill="#000000" stroke="#000000" stroke-width="3" stroke-linejoin="round"/>
<polygon points="1043.0,2010.8 1043.0,1970.0 1046.5,1968.2 1051.0,1970.0 1052.8,1914.9 1055.4,1913.1 1056.3,1840.3 1060.8,1840.3 1061.6,1920.2 1063.4,1922.0 1063.4,2010.8" fill="#000000" stroke="#000000" stroke-width="3" stroke-linejoin="round"/>
<polygon points="681.3,2000.0 700.8,2000.0 700.8,2007.1 692.8,2010.7 692.0,2062.2 682.2,2062.2" fill="#000000" stroke="#000000" stroke-width="3" stroke-linejoin="round"/>
<polygon points="707.1,2355.3 715.1,2355.3 715.1,2383.7 707.1,2383.7" fill="#000000" stroke="#000000" stroke-width="3" stroke-linejoin="round"/>
<polygon points="715.1,2003.6 725.7,2000.0 725.7,2078.2 715.1,2078.2" fill="#000000" stroke="#000000" stroke-width="3" stroke-linejoin="round"/>
<polygon points="775.5,2266.5 781.7,2277.1 783.5,2302.0 776.3,2302.0" fill="#000000" stroke="#000000" stroke-width="3" stroke-linejoin="round"/>
<polygon points="795.0,2142.1 805.7,2142.1 806.5,2222.1 799.4,2229.2 795.0,2229.2" fill="#000000" stroke="#000000" stroke-width="3" stroke-linejoin="round"/>
<polygon points="936.4,2390.8 937.3,2360.6 940.0,2360.6 944.4,2371.3 945.3,2390.8" fill="#000000" stroke="#000000" stroke-width="3" stroke-linejoin="round"/>
<polygon points="1023.5,2236.3 1029.7,2216.7 1034.1,2175.9 1043.9,2172.3 1043.9,2284.2 1041.2,2287.8 1038.6,2257.6 1036.8,2236.3" fill="#000000" stroke="#000000" stroke-width="3" stroke-linejoin="round"/>
<polygon points="1043.9,2000.0 1062.5,2000.0 1062.5,2051.5 1057.2,2051.5 1056.3,2104.8 1052.8,2106.6 1052.8,2154.6 1047.4,2156.3 1046.5,2172.3 1043.9,2172.3" fill="#000000" stroke="#000000" stroke-width="3" stroke-linejoin="round"/>
<polygon points="1062.5,2106.6 1067.0,2085.3 1071.4,2071.1 1075.0,2071.1 1075.0,2167.0 1071.4,2167.0 1067.9,2156.3 1063.4,2115.5" fill="#000000" stroke="#000000" stroke-width="3" stroke-linejoin="round"/>
<polygon points="646.7,2380.0 655.5,2380.0 655.5,2424.4 647.5,2424.4" fill="#000000" stroke="#000000" stroke-width="3" stroke-linejoin="round"/>
<polygon points="760.4,2637.6 768.4,2637.6 767.5,2696.2 761.2,2696.2" fill="#000000" stroke="#000000" stroke-width="3" stroke-linejoin="round"/>
<polygon points="784.3,2380.0 792.3,2380.0 792.3,2433.3 786.1,2433.3" fill="#000000" stroke="#000000" stroke-width="3" stroke-linejoin="round"/>
<polygon points="936.4,2380.0 946.2,2380.0 946.2,2410.2 940.0,2410.2 940.0,2436.8 937.3,2436.8" fill="#000000" stroke="#000000" stroke-width="3" stroke-linejoin="round"/>
<polygon points="948.8,2470.6 959.5,2470.6 959.5,2557.7 954.2,2582.5 948.8,2582.5" fill="#000000" stroke="#000000" stroke-width="3" stroke-linejoin="round"/>
<polygon points="978.1,2444.0 987.9,2444.0 987.9,2515.0 982.6,2515.0 982.6,2477.7 978.1,2477.7" fill="#000000" stroke="#000000" stroke-width="3" stroke-linejoin="round"/>
<polygon points="990.6,2628.7 999.5,2628.7 999.5,2705.1 994.1,2705.1 993.2,2673.1" fill="#000000" stroke="#000000" stroke-width="3" stroke-linejoin="round"/>
<polyline points="864.3,2010.8 864.3,1872.3 866.9,1870.5 866.9,1815.4 868.7,1813.6 869.6,1795.9 872.3,1795.0 876.0,1797.7" fill="none" stroke="#000000" stroke-width="5.4" stroke-linejoin="round" stroke-linecap="round"/>
<polyline points="873.7,1886.5 874.1,2010.8" fill="none" stroke="#000000" stroke-width="5.4" stroke-linejoin="round" stroke-linecap="round"/>
<polyline points="876.0,1797.7 876.9,1829.6 877.8,1831.4 878.7,1886.5 880.4,1888.3 880.4,2010.8" fill="none" stroke="#000000" stroke-width="5.4" stroke-linejoin="round" stroke-linecap="round"/>
<polyline points="646.7,2389.9 646.7,2357.1 649.3,2355.3 652.0,2366.0 652.9,2389.9" fill="none" stroke="#000000" stroke-width="5.4" stroke-linejoin="round" stroke-linecap="round"/>
<polyline points="672.4,2389.9 672.4,2255.8 676.5,2254.0 676.5,2207.9 680.1,2206.1 680.1,2103.0 683.6,2101.3 683.6,2062.2 687.5,2060.4 687.5,2000.0" fill="none" stroke="#000000" stroke-width="5.4" stroke-linejoin="round" stroke-linecap="round"/>
<polyline points="692.8,2010.7 697.3,2007.1 701.7,2009.8 701.7,2158.1 705.6,2159.9 705.6,2351.7 708.8,2353.5 714.2,2355.3 714.2,2383.7 710.6,2385.5 710.6,2389.9" fill="none" stroke="#000000" stroke-width="5.4" stroke-linejoin="round" stroke-linecap="round"/>
<polyline points="714.2,2389.9 714.2,2081.7 718.1,2079.9 722.2,2078.2 723.0,2120.8 727.5,2122.6 727.5,2273.6 731.0,2275.4 731.0,2389.9" fill="none" stroke="#000000" stroke-width="5.4" stroke-linejoin="round" stroke-linecap="round"/>
<polyline points="769.2,2389.9 769.2,2341.1 772.8,2339.3 772.8,2302.0 775.5,2300.2 776.3,2266.5 779.0,2264.7 781.7,2277.1 783.5,2278.9 784.3,2305.6 786.1,2307.3 786.1,2362.4 788.8,2364.2 788.8,2389.9" fill="none" stroke="#000000" stroke-width="5.4" stroke-linejoin="round" stroke-linecap="round"/>
<polyline points="795.0,2389.9 795.0,2142.1 797.7,2140.3 799.4,2074.6 802.1,2074.6 803.0,2140.3 805.7,2142.1 806.5,2222.1 811.0,2223.8 811.0,2268.3 813.7,2270.0 813.7,2389.9" fill="none" stroke="#000000" stroke-width="5.4" stroke-linejoin="round" stroke-linecap="round"/>
<polyline points="844.7,2389.9 845.6,2357.1 850.1,2355.3 850.1,2291.3 853.6,2289.6 853.6,2270.0 856.3,2268.3 856.3,2236.3 859.8,2234.5 859.8,2197.2 864.3,2195.4 864.3,2008.9 866.9,2007.1 866.9,2000.0" fill="none" stroke="#000000" stroke-width="5.4" stroke-linejoin="round" stroke-linecap="round"/>
<polyline points="874.9,2000.0 874.9,2030.2" fill="none" stroke="#000000" stroke-width="5.4" stroke-linejoin="round" stroke-linecap="round"/>
<polyline points="878.7,2000.0 879.6,2030.2 882.2,2032.0 882.2,2110.1 884.9,2111.9 885.8,2122.6 888.4,2124.4 888.4,2177.7 891.1,2179.4 891.1,2255.8 893.8,2257.6 893.8,2380.2 897.3,2382.0 898.2,2389.9" fill="none" stroke="#000000" stroke-width="5.4" stroke-linejoin="round" stroke-linecap="round"/>
<polyline points="1011.0,2389.9 1016.3,2383.7 1017.2,2326.9 1019.9,2325.1 1019.9,2268.3 1023.5,2266.5 1023.5,2236.3 1026.1,2234.5 1026.1,2218.5 1029.7,2216.7 1030.6,2206.1 1033.2,2204.3 1034.1,2175.9 1038.6,2174.1 1043.9,2172.3 1043.9,2000.0" fill="none" stroke="#000000" stroke-width="5.4" stroke-linejoin="round" stroke-linecap="round"/>
<polyline points="1062.5,2000.0 1063.4,2051.5 1066.1,2053.3 1067.0,2085.3 1069.6,2087.0 1071.4,2071.1 1075.0,2069.3 1075.0,2167.0 1078.5,2168.8 1078.5,2291.3 1083.9,2293.1 1083.9,2389.9" fill="none" stroke="#000000" stroke-width="5.4" stroke-linejoin="round" stroke-linecap="round"/>
<polyline points="644.9,2515.0 644.9,2426.2 647.5,2424.4 647.5,2380.0" fill="none" stroke="#000000" stroke-width="5.4" stroke-linejoin="round" stroke-linecap="round"/>
<polyline points="652.0,2380.0 653.8,2394.2 655.5,2396.0 655.5,2447.5 659.1,2449.3 659.1,2518.6 662.3,2520.3 662.3,2607.4 665.3,2610.9 668.9,2609.2 670.6,2602.1 670.6,2479.5 674.2,2477.7 674.2,2380.0" fill="none" stroke="#000000" stroke-width="5.4" stroke-linejoin="round" stroke-linecap="round"/>
<polyline points="707.1,2380.0 707.9,2435.1 711.5,2436.8 712.4,2488.4" fill="none" stroke="#000000" stroke-width="5.4" stroke-linejoin="round" stroke-linecap="round"/>
<polyline points="728.4,2380.0 729.3,2431.5 733.7,2433.3 733.7,2502.6 736.4,2504.4 737.3,2541.7 740.8,2543.4 742.6,2548.8 745.3,2557.7 747.0,2566.5 749.7,2575.4 752.4,2584.3 755.0,2584.3 758.6,2579.0 760.4,2580.7 761.2,2646.5 762.1,2696.2 764.8,2694.4 766.6,2646.5 767.5,2610.9 768.4,2545.2 771.0,2543.4 771.0,2380.0" fill="none" stroke="#000000" stroke-width="5.4" stroke-linejoin="round" stroke-linecap="round"/>
<polyline points="788.8,2380.0 788.8,2477.7 792.0,2479.5 792.3,2507.9 795.0,2507.9 795.0,2380.0" fill="none" stroke="#000000" stroke-width="5.4" stroke-linejoin="round" stroke-linecap="round"/>
<polyline points="811.9,2380.0 813.7,2390.7 816.3,2392.4 816.3,2435.1 819.0,2436.8 820.8,2456.4 824.3,2459.9 825.2,2543.4 829.6,2545.2 829.6,2607.4 826.1,2610.9 826.1,2685.6 829.6,2689.1 831.4,2699.8 835.0,2703.3 840.3,2703.3 842.1,2616.3 844.7,2614.5 844.7,2451.1 848.3,2449.3 848.3,2380.0" fill="none" stroke="#000000" stroke-width="5.4" stroke-linejoin="round" stroke-linecap="round"/>
<polyline points="895.5,2380.0 897.3,2383.6 898.2,2477.7 901.8,2479.5 901.8,2545.2 905.3,2547.0 905.3,2623.4 908.0,2625.2 908.0,2682.0 911.5,2685.6 916.9,2685.6 922.2,2676.7 927.5,2673.1 928.4,2639.4 932.0,2637.6 932.0,2575.4 935.5,2573.6 935.5,2440.4 939.1,2438.6 939.1,2380.0" fill="none" stroke="#000000" stroke-width="5.4" stroke-linejoin="round" stroke-linecap="round"/>
<polyline points="947.1,2410.2 947.9,2468.8 952.4,2470.6 954.2,2641.1" fill="none" stroke="#000000" stroke-width="5.4" stroke-linejoin="round" stroke-linecap="round"/>
<polyline points="955.9,2557.7 955.9,2406.6 959.5,2387.1 963.0,2387.1 965.7,2406.6 968.4,2438.6 970.2,2440.4 971.0,2475.9 975.5,2477.7 975.5,2520.3 978.1,2518.6 978.1,2479.5 982.6,2477.7 982.6,2445.7 987.9,2444.0 987.9,2515.0 990.6,2516.8 990.6,2628.7 993.2,2630.5 994.1,2673.1 998.6,2674.9 998.6,2703.3" fill="none" stroke="#000000" stroke-width="5.4" stroke-linejoin="round" stroke-linecap="round"/>
<polyline points="998.6,2705.1 998.6,2527.5 1003.0,2525.7 1003.0,2451.1 1008.4,2449.3 1008.4,2415.5 1012.8,2413.8 1012.8,2388.9 1016.3,2383.6 1018.1,2380.0" fill="none" stroke="#000000" stroke-width="5.4" stroke-linejoin="round" stroke-linecap="round"/>
<polyline points="1080.3,2380.0 1082.1,2396.0 1086.5,2397.8 1086.5,2559.4 1084.7,2561.2 1084.7,2639.4 1088.3,2641.1 1089.2,2687.3 1092.7,2689.1 1100.7,2690.9" fill="none" stroke="#000000" stroke-width="5.4" stroke-linejoin="round" stroke-linecap="round"/>
<polyline points="664.4,2707.8 667.1,2682.0 668.0,2646.5 668.9,2619.8 669.8,2614.5 673.3,2602.1 677.7,2584.3 680.4,2571.9 684.0,2563.0 689.3,2568.3 696.4,2571.9 701.7,2573.6 705.3,2566.5 710.6,2559.4 716.8,2548.8 723.0,2555.9 728.4,2564.8 732.8,2571.9 738.1,2575.4 742.6,2589.6 746.1,2603.8 749.7,2628.7 753.2,2632.3 760.4,2632.3 763.9,2628.7 768.4,2607.4 772.8,2587.9 776.3,2571.9 779.9,2557.7 783.5,2547.0 788.8,2541.7 792.3,2536.3 795.9,2522.1 799.4,2507.9 804.8,2499.0 811.0,2504.4 813.7,2522.1 815.4,2539.9 819.0,2557.7 822.5,2575.4 826.1,2593.2 829.6,2610.9 833.2,2614.5 836.7,2605.6 840.3,2584.3 843.9,2575.4 849.2,2575.4 856.3,2575.4 859.8,2566.5 863.4,2548.8 866.9,2531.0 870.5,2518.6 876.0,2507.9" fill="none" stroke="#00ff00" stroke-width="5.4" stroke-linejoin="round" stroke-linecap="round"/>
<polyline points="876.0,2507.9 879.6,2515.0 883.1,2531.0 886.7,2548.8 890.2,2566.5 893.8,2584.3 897.3,2602.1 900.9,2619.8 904.4,2637.6 908.0,2655.4 911.5,2673.1 915.1,2682.0 919.5,2685.6 924.0,2680.2 927.5,2671.3 931.1,2660.7 934.6,2648.3 938.2,2635.8 941.7,2628.7 945.3,2610.9 948.8,2593.2 952.4,2580.7 957.7,2571.9 963.9,2563.0 968.4,2570.1 971.9,2580.7 975.5,2593.2 979.0,2603.8 984.4,2607.4 989.7,2609.2 993.2,2605.6 996.8,2598.5 1000.4,2589.6 1003.9,2571.9 1005.7,2548.8 1007.5,2531.0 1011.0,2507.9 1014.6,2486.6 1018.1,2459.9 1019.9,2433.3 1021.7,2412.0 1023.5,2394.2 1025.2,2380.0" fill="none" stroke="#00ff00" stroke-width="5.4" stroke-linejoin="round" stroke-linecap="round"/>
<polyline points="1025.2,2380.0 1026.1,2326.9 1027.9,2303.8 1030.6,2293.1 1033.2,2286.0 1035.9,2278.9 1039.4,2271.8 1043.9,2268.3 1047.4,2270.0 1050.1,2277.1 1051.9,2287.8 1053.7,2302.0 1055.4,2323.3 1058.1,2337.5 1060.8,2355.3 1062.5,2373.1 1064.3,2390.8" fill="none" stroke="#00ff00" stroke-width="5.4" stroke-linejoin="round" stroke-linecap="round"/>
<polyline points="1064.3,2389.9 1066.1,2406.6 1067.9,2433.3 1069.6,2459.9 1071.4,2486.6 1073.2,2513.2 1075.0,2531.0 1076.7,2548.8 1080.3,2566.5 1083.9,2571.9 1087.4,2575.4 1089.2,2593.2 1091.8,2619.8 1094.5,2646.5 1096.3,2664.2 1098.1,2682.0 1099.8,2699.8 1100.7,2707.8" fill="none" stroke="#00ff00" stroke-width="5.4" stroke-linejoin="round" stroke-linecap="round"/>
<polyline points="638.0,2708.2 1101.5,2708.2" fill="none" stroke="#ff0000" stroke-width="5.4" stroke-linejoin="round" stroke-linecap="round"/>
<polyline points="660.9,2707.8 660.9,2651.8 663.5,2650.0 663.5,2616.3 665.3,2614.5 675.1,2614.5 677.7,2621.6 678.6,2676.7 681.3,2678.5 682.2,2707.8" fill="none" stroke="#ff0000" stroke-width="5.4" stroke-linejoin="round" stroke-linecap="round"/>
<polyline points="934.6,2707.8 934.6,2650.0 937.3,2618.1 949.7,2618.1 952.4,2625.2 952.4,2678.5 955.1,2682.0 955.9,2707.8" fill="none" stroke="#ff0000" stroke-width="5.4" stroke-linejoin="round" stroke-linecap="round"/>
<polyline points="1000.4,2707.8 1000.4,2674.9 1003.9,2673.1 1004.8,2616.3 1008.4,2614.5 1009.2,2561.2 1011.0,2527.5 1016.3,2527.5 1018.1,2539.9 1018.1,2573.6 1020.8,2575.4 1021.7,2628.7 1025.2,2630.5 1026.1,2682.0 1027.9,2683.8 1028.8,2707.8" fill="none" stroke="#ff0000" stroke-width="5.4" stroke-linejoin="round" stroke-linecap="round"/>
<polygon points="719.5,2664.2 729.3,2662.5 729.3,2707.8 719.5,2707.8" fill="#0000ff" stroke="#0000ff" stroke-width="3" stroke-linejoin="round"/>
<polyline points="638.0,2708.2 1101.5,2708.2" fill="none" stroke="#0000ff" stroke-width="5.4" stroke-linejoin="round" stroke-linecap="round"/>
<polyline points="700.8,2707.8 700.8,2651.8 703.5,2649.1 704.4,2596.7 707.1,2592.3 715.1,2592.3 717.7,2596.7 717.7,2660.7 723.0,2664.2 728.4,2660.7 731.0,2657.1 731.0,2596.7 733.7,2592.3 740.8,2592.3 743.5,2596.7 743.5,2650.0 747.0,2653.6 747.9,2707.8" fill="none" stroke="#0000ff" stroke-width="5.4" stroke-linejoin="round" stroke-linecap="round"/>
<polyline points="773.7,2707.8 774.6,2648.3 778.1,2646.5 778.1,2596.7 780.8,2592.3 788.8,2592.3 791.4,2596.7 791.4,2666.0 795.0,2667.8 795.0,2707.8" fill="none" stroke="#0000ff" stroke-width="5.4" stroke-linejoin="round" stroke-linecap="round"/>
<rect x="638" y="3162.8" width="1673" height="1085.5" fill="none" stroke="#444444" stroke-width="4"/>
<line x1="621" y1="4248.3" x2="638" y2="4248.3" stroke="#444444" stroke-width="4"/>
<text transform="translate(591.5,4269.8) scale(1.112,1)" text-anchor="end" class="tk">0</text>
<line x1="621" y1="3976.9" x2="638" y2="3976.9" stroke="#444444" stroke-width="4"/>
<text transform="translate(591.5,3998.4) scale(1.112,1)" text-anchor="end" class="tk">20</text>
<line x1="621" y1="3705.4" x2="638" y2="3705.4" stroke="#444444" stroke-width="4"/>
<text transform="translate(591.5,3726.9) scale(1.112,1)" text-anchor="end" class="tk">40</text>
<line x1="621" y1="3434.0" x2="638" y2="3434.0" stroke="#444444" stroke-width="4"/>
<text transform="translate(591.5,3455.5) scale(1.112,1)" text-anchor="end" class="tk">60</text>
<line x1="621" y1="3162.5" x2="638" y2="3162.5" stroke="#444444" stroke-width="4"/>
<text transform="translate(591.5,3184.0) scale(1.112,1)" text-anchor="end" class="tk">80</text>
<line x1="638.0" y1="4248.3" x2="638.0" y2="4264.3" stroke="#444444" stroke-width="4"/>
<text transform="translate(638.0,4347.3) scale(1.112,1)" text-anchor="middle" class="tk">0</text>
<line x1="896.7" y1="4248.3" x2="896.7" y2="4264.3" stroke="#444444" stroke-width="4"/>
<text transform="translate(896.7,4347.3) scale(1.112,1)" text-anchor="middle" class="tk">50</text>
<line x1="1155.4" y1="4248.3" x2="1155.4" y2="4264.3" stroke="#444444" stroke-width="4"/>
<text transform="translate(1155.4,4347.3) scale(1.112,1)" text-anchor="middle" class="tk">100</text>
<line x1="1414.1" y1="4248.3" x2="1414.1" y2="4264.3" stroke="#444444" stroke-width="4"/>
<text transform="translate(1414.1,4347.3) scale(1.112,1)" text-anchor="middle" class="tk">150</text>
<line x1="1672.8" y1="4248.3" x2="1672.8" y2="4264.3" stroke="#444444" stroke-width="4"/>
<text transform="translate(1672.8,4347.3) scale(1.112,1)" text-anchor="middle" class="tk">200</text>
<line x1="1931.5" y1="4248.3" x2="1931.5" y2="4264.3" stroke="#444444" stroke-width="4"/>
<text transform="translate(1931.5,4347.3) scale(1.112,1)" text-anchor="middle" class="tk">250</text>
<line x1="2190.2" y1="4248.3" x2="2190.2" y2="4264.3" stroke="#444444" stroke-width="4"/>
<text transform="translate(2190.2,4347.3) scale(1.112,1)" text-anchor="middle" class="tk">300</text>
<text transform="translate(1473.7,3117.0) scale(1.112,1)" text-anchor="middle" class="ti">PUUV N protein</text>
<text transform="translate(1473.7,4461.8) scale(1.112,1)" text-anchor="middle" class="xl">amino acid position</text>
<text transform="translate(457.5,3693.8) rotate(-90) scale(1,1.112)" text-anchor="middle" class="yl" style="font-size:65.6px">sequence divergence [%]</text>
<text transform="translate(15.8,3178.5) scale(1.066,1)" class="pl">(<tspan font-weight="bold" font-size="104px">c</tspan>)</text>
<polygon points="1751.3,3790.0 1751.3,3742.4 1754.8,3740.1 1754.8,3728.4 1758.3,3719.1 1761.8,3719.1 1761.8,3790.0" fill="#000000" stroke="#000000" stroke-width="3" stroke-linejoin="round"/>
<polygon points="1751.2,3770.0 1765.2,3770.0 1766.4,3805.0 1766.4,3886.6 1762.9,3933.2 1758.2,3933.2 1754.7,3823.6" fill="#000000" stroke="#000000" stroke-width="3" stroke-linejoin="round"/>
<polygon points="1764.0,3828.3 1773.4,3826.0 1776.8,3837.6 1778.0,3942.5 1767.5,3942.5 1764.0,3933.2" fill="#000000" stroke="#000000" stroke-width="3" stroke-linejoin="round"/>
<polygon points="1797.8,4115.1 1806.0,4119.7 1808.3,4150.0 1811.8,4189.7 1802.5,4166.4" fill="#000000" stroke="#000000" stroke-width="3" stroke-linejoin="round"/>
<polygon points="1884.2,3569.9 1891.2,3562.9 1904.0,3562.9 1904.0,3686.5 1898.2,3686.5 1897.0,3733.1 1884.2,3733.1" fill="#000000" stroke="#000000" stroke-width="3" stroke-linejoin="round"/>
<polygon points="1900.7,3770.0 1913.5,3770.0 1913.5,3802.6 1904.2,3802.6" fill="#000000" stroke="#000000" stroke-width="3" stroke-linejoin="round"/>
<polygon points="1940.3,4119.7 1949.6,4119.7 1948.5,4171.0 1941.5,4171.0" fill="#000000" stroke="#000000" stroke-width="3" stroke-linejoin="round"/>
<polyline points="643.0,4248.0 650.0,4243.3 657.0,4238.6 660.5,4234.0 661.6,4203.7 664.0,4185.0 667.5,4194.3 671.0,4196.7 675.6,4201.3 676.8,4224.7 680.3,4236.3 682.6,4241.0 685.0,4245.6 688.5,4245.6 688.5,4187.3 692.0,4182.7 692.0,3937.9 696.6,3935.5 695.5,3812.0 700.1,3810.8 702.4,3815.5 705.9,3812.0 705.9,3874.9 709.4,3878.4 709.4,4245.6 712.9,4089.4 717.6,4082.4 728.1,4080.1 729.3,4143.0 731.6,4234.0 733.9,4231.6 735.1,4143.0 737.4,4101.1 740.9,4087.1 745.6,4089.4 747.9,4105.7 750.2,4110.4 751.4,4189.7 753.7,4192.0 754.9,4238.6 758.4,4245.6 775.9,4246.8 778.2,4234.0 781.7,4231.6 787.6,4231.6 791.0,4236.3 796.9,4243.3 803.9,4238.6 808.5,4234.0 813.2,4231.6 820.2,4220.0 824.9,4227.0 829.5,4236.3 833.0,4245.6 836.5,4246.8 870.3,4246.8 870.3,4131.4 873.8,4129.1 873.8,3996.2 878.5,3991.5 884.3,3993.8 887.8,4000.8 887.8,4068.4 891.3,4070.8 891.3,4152.4 893.6,4150.0 896.0,4143.0 901.8,4145.4 904.1,4187.3 907.6,4166.4 908.8,3904.1 912.3,3902.9 912.3,3816.6 922.8,3816.6 923.9,3898.2 927.4,3900.6 927.4,4157.0 930.9,4159.4 932.1,4234.0 935.6,4231.6 940.3,4229.3 943.8,4234.0 948.4,4236.3 951.0,4236.3" fill="none" stroke="#000000" stroke-width="5.4" stroke-linejoin="round" stroke-linecap="round"/>
<polyline points="711.8,4089.4 712.9,4182.7 715.3,4185.0" fill="none" stroke="#000000" stroke-width="5.4" stroke-linejoin="round" stroke-linecap="round"/>
<polyline points="728.1,4145.4 738.6,4145.4" fill="none" stroke="#000000" stroke-width="5.4" stroke-linejoin="round" stroke-linecap="round"/>
<polyline points="731.6,4147.7 732.8,4234.0" fill="none" stroke="#000000" stroke-width="5.4" stroke-linejoin="round" stroke-linecap="round"/>
<polyline points="904.1,4145.4 905.3,4192.0" fill="none" stroke="#000000" stroke-width="5.4" stroke-linejoin="round" stroke-linecap="round"/>
<polyline points="951.0,4236.3 954.5,4231.6 960.3,4234.0 962.7,4243.3 963.8,4243.3 963.8,4185.0 967.3,4182.7 967.3,3963.5 970.8,3961.2 969.7,3851.6 980.1,3851.6 980.1,3909.9 983.6,3912.2 983.6,4157.0 986.0,4159.4 986.0,4245.6 988.3,4246.8 1018.6,4245.6 1032.6,4244.5 1037.3,4241.0 1041.9,4237.5 1046.6,4238.6 1051.3,4243.3 1053.6,4245.6 1074.6,4245.6 1083.9,4243.3 1088.6,4241.0 1093.2,4242.1 1097.9,4239.8 1102.6,4238.6 1104.9,4245.6 1111.9,4245.6 1116.5,4239.8 1122.4,4236.3 1128.2,4238.6 1132.9,4243.3 1142.2,4245.6 1163.2,4245.6 1167.8,4238.6 1172.5,4235.1 1177.2,4237.5 1181.8,4241.0 1186.5,4238.6 1191.1,4237.5 1193.5,4234.0 1193.5,3991.5 1197.0,3989.2 1195.8,3807.3 1205.1,3800.3 1207.5,3819.0 1209.8,3821.3 1209.8,4080.1 1213.3,4082.4 1213.3,4220.0 1216.8,4234.0 1219.1,4236.3 1221.5,4196.7 1225.0,4192.0 1230.8,4194.3 1233.1,4201.3 1234.3,4220.0 1237.8,4222.3 1238.9,4241.0 1242.4,4244.5 1251.8,4245.6 1266.0,4246.8" fill="none" stroke="#000000" stroke-width="5.4" stroke-linejoin="round" stroke-linecap="round"/>
<polyline points="1266.0,4246.8 1270.7,4246.8 1280.0,4244.5 1288.1,4246.8 1310.3,4246.8 1319.6,4243.3 1329.0,4245.6 1354.6,4246.8 1361.6,4244.5 1368.6,4246.8 1380.2,4246.8 1384.9,4238.6 1389.6,4236.3 1396.6,4234.0 1401.2,4241.0 1405.9,4232.8 1410.6,4234.0 1417.6,4236.3 1422.2,4241.0 1424.5,4246.8 1443.2,4246.8 1450.2,4244.5 1457.2,4246.8 1527.1,4246.8 1531.8,4243.3 1540.0,4242.1 1538.8,3975.2 1542.3,3972.8 1542.3,3805.0 1545.8,3803.8 1552.8,3812.0 1552.8,3828.3 1556.3,3830.6 1556.3,4096.4 1558.6,4098.7 1558.6,4245.6 1562.1,4246.8 1581.0,4245.6" fill="none" stroke="#000000" stroke-width="5.4" stroke-linejoin="round" stroke-linecap="round"/>
<polyline points="1581.0,4245.6 1590.3,4244.5 1597.3,4246.8 1613.6,4246.8 1620.6,4238.6 1627.6,4236.3 1634.6,4238.6 1639.3,4235.1 1645.1,4234.0 1650.9,4238.6 1657.9,4235.1 1664.9,4235.1 1671.9,4236.3 1674.3,4243.3 1676.6,4246.8 1706.9,4246.8 1711.6,4241.0 1718.6,4238.6 1723.2,4239.8 1726.7,4245.6 1741.9,4245.6 1743.0,4222.3 1745.4,4224.7 1745.4,4154.7 1747.7,4152.4 1747.7,3949.5 1751.2,3947.2 1751.2,3826.0 1754.7,3823.6 1754.7,3770.0" fill="none" stroke="#000000" stroke-width="5.4" stroke-linejoin="round" stroke-linecap="round"/>
<polyline points="1751.3,3790.0 1751.3,3742.4 1754.8,3740.1 1754.8,3728.4 1758.3,3719.1 1761.8,3719.1 1761.8,3790.0" fill="none" stroke="#000000" stroke-width="5.4" stroke-linejoin="round" stroke-linecap="round"/>
<polyline points="1761.7,3770.0 1761.7,3802.6 1766.4,3805.0 1766.4,3886.6 1762.9,3933.2 1764.0,4040.5 1767.5,4038.1 1767.5,3942.5 1771.0,3940.2 1769.9,3828.3 1773.4,3826.0 1776.8,3837.6 1780.3,3851.6 1782.7,3853.9 1783.8,4056.8 1786.2,4059.1 1786.2,4171.0 1785.0,4222.3 1788.5,4227.0 1792.0,4220.0 1793.2,4175.7 1796.7,4171.0 1799.0,4166.4 1800.2,4115.1 1802.5,4112.7 1806.0,4119.7 1808.3,4122.1 1809.5,4147.7 1811.8,4150.0 1811.8,4189.7 1814.2,4192.0 1815.3,4224.7 1817.7,4231.6 1821.1,4234.0 1825.8,4232.8 1830.5,4231.6 1836.3,4231.6 1838.6,4227.0 1839.8,4143.0 1843.3,4140.7 1843.3,4049.8 1845.6,4047.5 1846.8,4026.5 1849.1,4010.1 1851.5,4035.8 1852.6,4117.4 1855.0,4119.7 1855.0,4199.0 1858.5,4201.3 1860.8,4224.7 1864.3,4231.6 1867.8,4231.6 1870.1,4227.0 1871.3,4185.0 1873.6,4182.7 1873.6,4059.1 1877.1,4056.8 1877.1,3823.6 1880.6,3821.3 1880.6,3770.0" fill="none" stroke="#000000" stroke-width="5.4" stroke-linejoin="round" stroke-linecap="round"/>
<polyline points="1879.5,3790.0 1879.5,3733.1 1884.2,3733.1 1884.2,3569.9 1888.9,3567.6 1888.9,3460.3 1890.7,3460.3 1891.2,3560.6 1897.0,3560.6 1897.7,3446.3 1900.0,3446.3 1901.0,3474.3 1904.7,3475.5 1904.7,3686.5 1906.3,3688.8 1906.3,3790.0" fill="none" stroke="#000000" stroke-width="5.4" stroke-linejoin="round" stroke-linecap="round"/>
<polyline points="1893.5,3733.1 1893.5,3790.0" fill="none" stroke="#000000" stroke-width="5.4" stroke-linejoin="round" stroke-linecap="round"/>
<polyline points="1893.0,3770.0 1893.4,3884.2" fill="none" stroke="#000000" stroke-width="5.4" stroke-linejoin="round" stroke-linecap="round"/>
<polyline points="1896.0,3770.0 1897.2,3884.2" fill="none" stroke="#000000" stroke-width="5.4" stroke-linejoin="round" stroke-linecap="round"/>
<polyline points="1906.5,3770.0 1907.7,3788.7 1912.3,3788.7 1912.3,3951.9 1915.8,3954.2 1915.8,4117.4 1918.1,4122.1 1920.5,4122.1 1922.8,4105.7 1925.1,4080.1 1928.6,4066.1 1936.8,4066.1 1938.0,4082.4 1940.3,4084.8 1940.3,4117.4 1943.8,4119.7 1943.8,4171.0 1946.1,4201.3 1948.5,4171.0 1949.6,4119.7 1950.8,4084.8 1954.3,4087.1 1957.8,4094.1 1960.1,4112.7 1963.6,4115.1 1963.6,4133.7 1965.9,4136.1 1967.1,4154.7 1969.4,4152.4 1970.6,4147.7 1975.3,4152.4 1976.4,4178.0 1979.9,4180.4 1979.9,4231.6 1983.4,4236.3 1988.1,4234.0 1993.9,4231.6 1998.6,4234.0 2002.1,4234.0 2002.1,4152.4 2005.6,4150.0 2005.6,3888.9 2009.1,3886.6 2007.9,3802.6 2012.6,3793.3 2017.2,3795.6 2018.4,3886.6 2021.9,3888.9 2021.9,4154.7 2025.4,4157.0 2025.4,4231.6 2028.9,4236.3 2033.6,4234.0 2038.2,4234.0 2042.9,4236.3 2046.4,4238.6 2049.9,4238.6 2056.9,4235.1 2061.5,4236.3 2066.2,4238.6 2073.2,4238.6 2077.9,4241.0 2082.5,4243.3 2089.5,4243.3 2096.5,4242.1 2101.2,4241.0 2102.3,4206.0 2104.7,4203.7 2105.8,4182.7 2108.2,4180.4 2112.8,4178.0 2112.8,3991.5 2116.3,3989.2 2115.2,3800.3 2118.7,3800.3 2121.0,3833.0 2123.3,3839.9 2126.8,3842.3 2129.2,3844.6 2129.2,4047.5 2132.7,4049.8 2132.7,4222.3 2136.1,4227.0 2139.6,4234.0 2144.3,4236.3 2146.6,4241.0 2149.0,4245.6 2159.5,4245.6 2166.5,4243.3 2173.5,4241.0 2178.1,4238.6 2182.8,4238.6 2187.4,4242.1 2194.4,4243.3 2201.4,4243.3 2211.0,4245.6" fill="none" stroke="#000000" stroke-width="5.4" stroke-linejoin="round" stroke-linecap="round"/>
<polyline points="2200.0,4246.1 2206.0,4246.1 2227.7,4246.1 2230.1,4241.3 2237.3,4238.9 2242.1,4241.3 2245.7,4246.1 2266.2,4246.1 2269.8,4243.7 2277.0,4243.7 2281.8,4246.1 2308.3,4246.7" fill="none" stroke="#000000" stroke-width="5.4" stroke-linejoin="round" stroke-linecap="round"/>
<polyline points="765.4,4248.0 767.7,4243.3 771.2,4246.8" fill="none" stroke="#00ff00" stroke-width="5.4" stroke-linejoin="round" stroke-linecap="round"/>
<polyline points="854.0,4248.0 856.3,4236.3 859.8,4229.3 863.3,4236.3 865.7,4248.0 879.6,4248.0 882.0,4227.0 884.3,4213.0 887.8,4208.3 890.1,4217.7 892.5,4224.7 894.8,4213.0 898.3,4217.7 901.8,4224.7 906.5,4227.0 911.1,4229.3 915.8,4234.0 922.8,4241.0 927.4,4245.6 934.4,4248.0" fill="none" stroke="#00ff00" stroke-width="5.4" stroke-linejoin="round" stroke-linecap="round"/>
<polyline points="958.0,4245.6 965.0,4241.0 969.7,4239.8 997.6,4239.8 1004.6,4241.0 1011.6,4245.6" fill="none" stroke="#00ff00" stroke-width="5.4" stroke-linejoin="round" stroke-linecap="round"/>
<polyline points="1186.5,4245.6 1193.5,4241.0 1202.8,4236.3 1212.1,4241.0 1219.1,4238.6 1223.8,4237.5 1230.8,4243.3 1235.4,4245.6" fill="none" stroke="#00ff00" stroke-width="5.4" stroke-linejoin="round" stroke-linecap="round"/>
<polyline points="1732.6,4246.8 1736.0,4224.7 1739.5,4206.0 1741.9,4154.7 1745.4,4103.4 1746.5,4049.8 1748.9,4033.5 1752.4,4026.5 1755.9,4003.2 1758.2,3968.2 1761.7,3956.5 1762.9,3933.2 1765.2,3886.6 1767.5,3844.6 1771.0,3842.3 1773.4,3849.3 1774.5,3933.2 1776.8,4026.5 1778.0,4096.4 1780.3,4110.4 1781.5,4166.4 1783.8,4213.0 1786.2,4224.7 1788.5,4213.0 1790.8,4189.7 1794.3,4143.0 1797.8,4133.7 1801.3,4161.7 1804.8,4189.7 1808.3,4201.3 1811.8,4213.0 1814.2,4224.7 1818.8,4238.6 1823.5,4243.3 1828.1,4234.0 1830.5,4213.0 1832.8,4143.0 1835.1,4096.4 1836.3,4026.5 1839.8,3979.8 1841.0,3909.9 1842.1,3816.6 1844.5,3812.0 1845.6,3770.0" fill="none" stroke="#00ff00" stroke-width="5.4" stroke-linejoin="round" stroke-linecap="round"/>
<polyline points="1846.9,3790.0 1846.9,3754.1 1849.2,3754.1 1850.4,3790.0" fill="none" stroke="#00ff00" stroke-width="5.4" stroke-linejoin="round" stroke-linecap="round"/>
<polyline points="1849.1,3770.0 1850.3,3816.6 1852.6,3921.6 1855.0,3979.8 1857.3,4035.8 1858.5,4073.1 1860.8,4133.7 1862.0,4189.7 1864.3,4201.3 1867.8,4196.7 1872.4,4185.0 1877.1,4201.3 1881.8,4217.7 1886.4,4234.0 1891.1,4245.6 1893.4,4248.0" fill="none" stroke="#00ff00" stroke-width="5.4" stroke-linejoin="round" stroke-linecap="round"/>
<polyline points="1896.0,4245.6 1899.5,4231.6 1903.0,4220.0 1910.0,4213.0 1914.7,4199.0 1919.3,4194.3 1924.0,4199.0 1928.6,4208.3 1933.3,4224.7 1938.0,4236.3 1942.6,4245.6 1952.0,4245.6 1956.6,4231.6 1961.3,4220.0 1967.1,4210.7 1970.6,4220.0 1975.3,4231.6 1979.9,4241.0 1982.3,4245.6" fill="none" stroke="#00ff00" stroke-width="5.4" stroke-linejoin="round" stroke-linecap="round"/>
<polyline points="2049.9,4245.6 2056.9,4238.6 2063.9,4238.6 2073.2,4243.3 2077.9,4245.6" fill="none" stroke="#00ff00" stroke-width="5.4" stroke-linejoin="round" stroke-linecap="round"/>
<polyline points="2105.8,4245.6 2114.0,4236.3 2119.8,4238.6 2126.8,4245.6" fill="none" stroke="#00ff00" stroke-width="5.4" stroke-linejoin="round" stroke-linecap="round"/>
<polyline points="2251.8,4247.3 2257.8,4243.7 2263.8,4238.9 2272.2,4236.5 2278.2,4234.1 2284.3,4229.2 2289.1,4231.7 2292.7,4238.9 2297.5,4244.9 2299.9,4247.3" fill="none" stroke="#00ff00" stroke-width="5.4" stroke-linejoin="round" stroke-linecap="round"/>
<polyline points="638.0,4247.8 2311.0,4247.8" fill="none" stroke="#ff0000" stroke-width="5.4" stroke-linejoin="round" stroke-linecap="round"/>
<polyline points="1795.5,4246.8 1796.7,4227.0 1800.2,4220.0 1807.2,4217.7 1811.8,4222.3 1814.2,4234.0 1816.5,4241.0 1818.8,4246.8" fill="none" stroke="#ff0000" stroke-width="5.4" stroke-linejoin="round" stroke-linecap="round"/>
<polyline points="2046.4,4248.0 2048.7,4210.7 2051.0,4208.3 2052.2,4187.3 2056.9,4185.0 2061.5,4187.3 2063.9,4210.7 2067.4,4213.0 2068.5,4234.0 2069.7,4248.0" fill="none" stroke="#ff0000" stroke-width="5.4" stroke-linejoin="round" stroke-linecap="round"/>
<polyline points="2101.2,4248.0 2103.5,4222.3 2105.8,4217.7 2117.5,4217.7 2121.0,4224.7 2123.3,4241.0 2124.5,4248.0" fill="none" stroke="#ff0000" stroke-width="5.4" stroke-linejoin="round" stroke-linecap="round"/>
<polyline points="638.0,4247.8 2311.0,4247.8" fill="none" stroke="#0000ff" stroke-width="5.4" stroke-linejoin="round" stroke-linecap="round"/>
<polyline points="773.6,4248.0 774.7,4189.7 777.1,4187.3 777.1,4138.4 780.6,4133.7 788.7,4133.7 792.2,4140.7 792.2,4206.0 795.7,4208.3 795.7,4248.0" fill="none" stroke="#0000ff" stroke-width="5.4" stroke-linejoin="round" stroke-linecap="round"/>
<polyline points="1903.0,4248.0 1905.3,4222.3 1907.7,4222.3 1907.7,4159.4 1910.0,4157.0 1910.0,4145.4 1921.6,4145.4 1921.6,4180.4 1924.0,4182.7 1924.0,4248.0" fill="none" stroke="#0000ff" stroke-width="5.4" stroke-linejoin="round" stroke-linecap="round"/>
<polyline points="2024.2,4248.0 2025.4,4215.3 2027.7,4213.0 2040.6,4213.0 2042.9,4217.7 2042.9,4231.6 2045.2,4236.3 2046.4,4248.0" fill="none" stroke="#0000ff" stroke-width="5.4" stroke-linejoin="round" stroke-linecap="round"/>
<line x1="1102" y1="112" x2="1102" y2="1175" stroke="#000" stroke-width="6.8" stroke-dasharray="45.5,14.7"/>
<line x1="1104.5" y1="3174" x2="1104.5" y2="4248" stroke="#000" stroke-width="6.8" stroke-dasharray="45.5,14.7"/>
<rect x="1817.8" y="136" width="438.7" height="310.9" fill="#fff" stroke="#222" stroke-width="3.2"/>
<line x1="1850.5" y1="194.6" x2="1978.5" y2="194.6" stroke="#000000" stroke-width="5" stroke-linecap="round"/>
<text transform="translate(2008.5,211.8) scale(1.112,1)" text-anchor="start" class="lg">all</text>
<line x1="1850.5" y1="260.2" x2="1978.5" y2="260.2" stroke="#00ff00" stroke-width="5" stroke-linecap="round"/>
<text transform="translate(2008.5,275.9) scale(1.112,1)" text-anchor="start" class="lg">CE</text>
<line x1="1850.5" y1="325.2" x2="1978.5" y2="325.2" stroke="#ff0000" stroke-width="5" stroke-linecap="round"/>
<text transform="translate(2008.5,340.8) scale(1.112,1)" text-anchor="start" class="lg">BW-mo</text>
<line x1="1850.5" y1="387.1" x2="1978.5" y2="387.1" stroke="#0000ff" stroke-width="5" stroke-linecap="round"/>
<text transform="translate(2008.5,404.3) scale(1.112,1)" text-anchor="start" class="lg">NW-mo</text>
</svg></body></html>
